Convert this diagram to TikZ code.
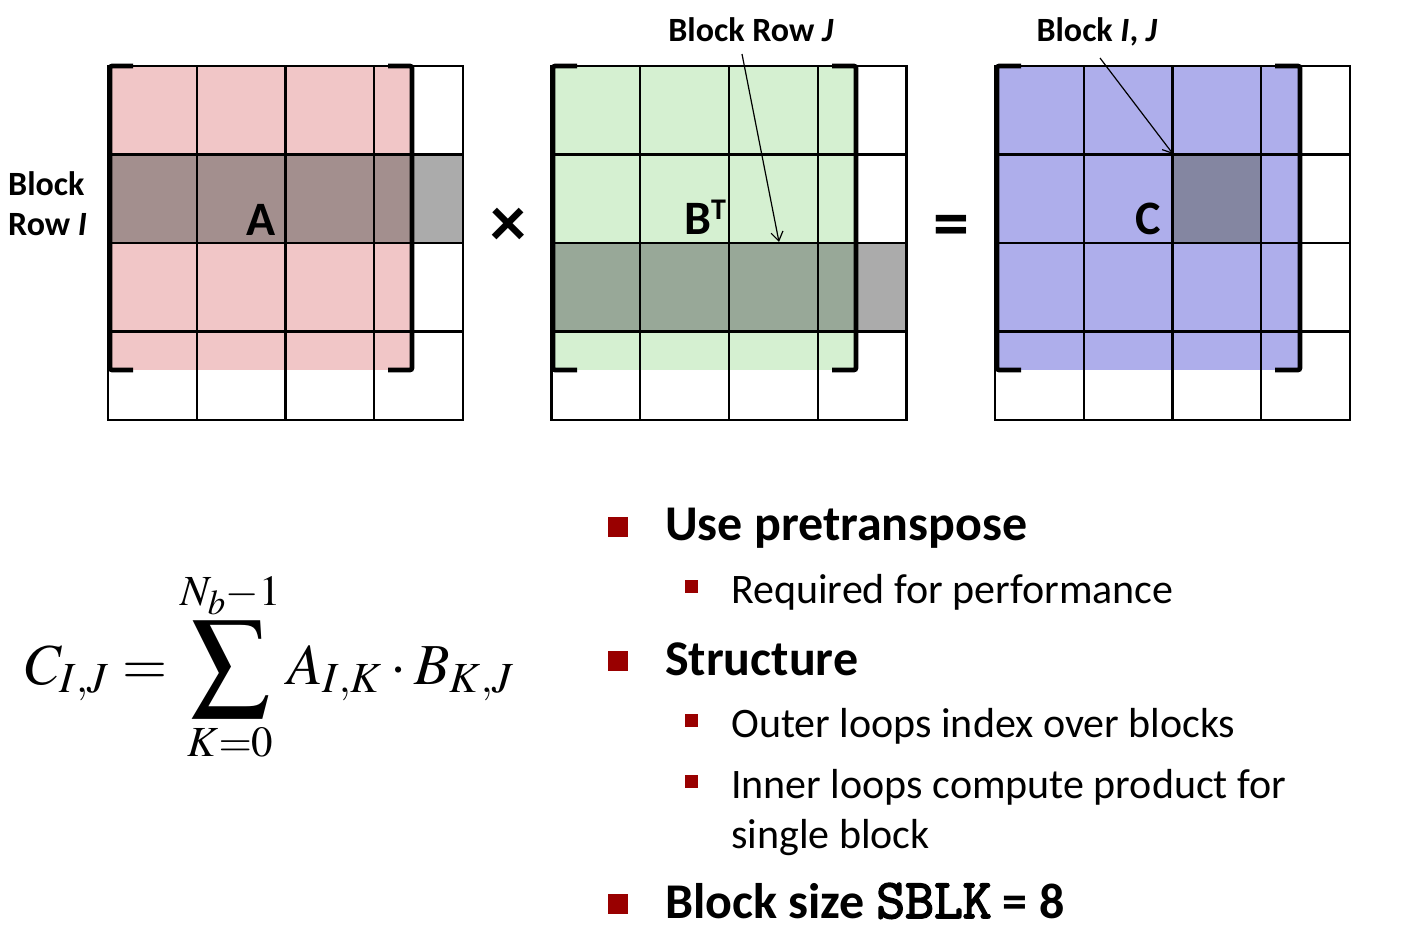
\documentclass[tikz,border=0pt]{standalone}
\usepackage{mathptmx}
\usepackage[no-math]{fontspec}
\setmainfont{Carlito}
\newfontfamily\codefont{Latin Modern Mono}[FakeBold=3]
\usetikzlibrary{arrows.meta}
\definecolor{pinkA}{HTML}{F1C6C7}
\definecolor{bandA}{HTML}{A38F8E}
\definecolor{bandgray}{HTML}{ABABAB}
\definecolor{greenB}{HTML}{D5F0D1}
\definecolor{bandB}{HTML}{98A898}
\definecolor{blueC}{HTML}{AEAEEB}
\definecolor{cellC}{HTML}{8486A1}
\definecolor{bulletred}{HTML}{990000}
\newcommand{\bigsum}{\mathop{\vcenter{\hbox{\scalebox{1.35}{$\displaystyle\sum$}}}}\limits}
\begin{document}
\begin{tikzpicture}[x=1pt,y=-1pt,
  gridline/.style={line width=2.4pt, line cap=rect},
  bracket/.style={line width=4.6pt, rounded corners=2pt},
  lbl/.style={font=\fontsize{34}{40}\selectfont\bfseries, inner sep=0},
  big/.style={font=\fontsize{48}{50}\selectfont\bfseries, inner sep=0},
  ptr/.style={line width=1.2pt, -{Straight Barb[length=9pt,width=12pt]}},
  mainitem/.style={font=\fontsize{50}{56}\selectfont\bfseries, anchor=base west, inner sep=0},
  subitem/.style={font=\fontsize{42}{50}\selectfont, anchor=base west, inner sep=0},
  mainsq/.style={fill=bulletred, minimum size=20pt, inner sep=0},
  subsq/.style={fill=bulletred, minimum size=13pt, inner sep=0},
  opsym/.style={font=\fontsize{72}{72}\selectfont\bfseries, inner sep=0}]
\useasboundingbox (0,0) rectangle (1401,943);
% ---------- fills ----------
\fill[pinkA] (108,66) rectangle (412,370);
\fill[bandA] (108,154) rectangle (412,243);
\fill[bandgray] (412,154) rectangle (463,243);
\fill[greenB] (551,66) rectangle (855,370);
\fill[bandB] (551,243) rectangle (855,331);
\fill[bandgray] (855,243) rectangle (907,331);
\fill[blueC] (995,66) rectangle (1300,370);
\fill[cellC] (1173,154) rectangle (1262,243);
% ---------- grids ----------
\foreach \xo in {108,551.5,995}{
  \foreach \i in {0,...,4}{
    \draw[gridline] ({\xo+\i*88.75},66) -- ({\xo+\i*88.75},420);
    \draw[gridline] (\xo,{66+\i*88.5}) -- ({\xo+355},{66+\i*88.5});
  }
}
% ---------- brackets ----------
\draw[bracket] (133,66) -- (110,66) -- (110,370) -- (133,370);
\draw[bracket] (388,66) -- (412,66) -- (412,370) -- (388,370);
\draw[bracket] (577,66) -- (553,66) -- (553,370) -- (577,370);
\draw[bracket] (832,66) -- (856,66) -- (856,370) -- (832,370);
\draw[bracket] (1021,66) -- (997,66) -- (997,370) -- (1021,370);
\draw[bracket] (1275,66) -- (1300,66) -- (1300,370) -- (1275,370);
% ---------- matrix labels ----------
\node[big, anchor=base] (labA) at (261,235) {A};
\node[big, anchor=base west] (labB) at (684,234) {B\raisebox{15pt}{\fontsize{30}{30}\selectfont T}};
\node[big, anchor=base west] (labC) at (1135,234) {C};
\node[opsym] (times) at (508,227) {×};
\node[opsym] (equals) at (951,231) {=};
% ---------- block labels ----------
\node[lbl, anchor=base west] (lblI1) at (8,195) {Block};
\node[lbl, anchor=base west] (lblI2) at (8,235) {Row \textit{I}};
\node[lbl, anchor=base] (lblJ) at (751,41) {Block Row \textit{J}};
\node[lbl, anchor=base] (lblIJ) at (1097,41) {Block \textit{I}, \textit{J}};
\coordinate (jStart) at (742,54);
\coordinate (jEnd) at (779,242);
\coordinate (ijStart) at (1100,58);
\coordinate (ijEnd) at (1173,154);
\draw[ptr] (jStart) -- (jEnd);
\draw[ptr] (ijStart) -- (ijEnd);
% ---------- equation ----------
\node[anchor=base west, inner sep=0] (eq) at (25,684)
  {\fontsize{58}{62}\selectfont$\displaystyle C_{I,J} = \bigsum_{K=0}^{N_b-1\rule[-5pt]{0pt}{0pt}} A_{I,K}\cdot B_{K,J}$};
% ---------- bullets ----------
\node[mainsq] (b1) at (618,527) {};
\node[mainitem] (t1) at (665,540) {Use pretranspose};
\node[subsq] (s1) at (691,586) {};
\node[subitem] (u1) at (731,603) {Required for performance};
\node[mainsq] (b2) at (618,661) {};
\node[mainitem] (t2) at (665,675) {Structure};
\node[subsq] (s2) at (691,720) {};
\node[subitem] (u2) at (731,737) {Outer loops index over blocks};
\node[subsq] (s3) at (691,781) {};
\node[subitem] (u3) at (731,798) {Inner loops compute product for};
\node[subitem] (u4) at (731,848) {single block};
\node[mainsq] (b3) at (618,904) {};
\node[mainitem] (t3) at (665,918) {Block size {\fontsize{56}{56}\selectfont\codefont SBLK} = 8};
\end{tikzpicture}
\end{document}
